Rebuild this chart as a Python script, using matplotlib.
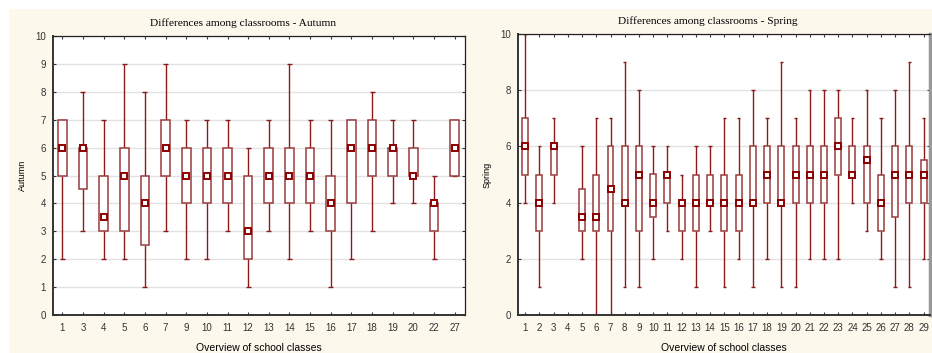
import numpy as np
import matplotlib
matplotlib.use("Agg")
import matplotlib.pyplot as plt
from matplotlib.patches import Rectangle

# Autumn: classes and box statistics (whisker low, Q1, median, Q3, whisker high)
aut_classes = ["1", "3", "4", "5", "6", "7", "9", "10", "11", "12", "13", "14", "15", "16", "17", "18", "19", "20", "22", "27"]
aut_low = [2, 3, 2, 2, 1, 3, 2, 2, 3, 1, 3, 2, 3, 1, 2, 3, 4, 4, 2, 5]
aut_q1 = [5, 4.5, 3, 3, 2.5, 5, 4, 4, 4, 2, 4, 4, 4, 3, 4, 5, 5, 5, 3, 5]
aut_med = [6, 6, 3.5, 5, 4, 6, 5, 5, 5, 3, 5, 5, 5, 4, 6, 6, 6, 5, 4, 6]
aut_q3 = [7, 6, 5, 6, 5, 7, 6, 6, 6, 5, 6, 6, 6, 5, 7, 7, 6, 6, 4, 7]
aut_high = [7, 8, 7, 9, 8, 9, 7, 7, 7, 6, 7, 9, 7, 7, 7, 8, 7, 7, 5, 7]

# Spring: classes 1..29, class 4 has no data
spr_classes = [str(i) for i in range(1, 30)]
spr_low = [4, 1, 4, None, 2, 0, 0, 1, 1, 2, 3, 2, 1, 3, 1, 2, 1, 2, 1, 1, 2, 2, 2, 4, 3, 2, 1, 1, 2]
spr_q1 = [5, 3, 5, None, 3, 3, 3, 4, 3, 3.5, 4, 3, 3, 4, 3, 3, 4, 4, 4, 4, 4, 4, 5, 5, 4, 3, 3.5, 4, 4]
spr_med = [6, 4, 6, None, 3.5, 3.5, 4.5, 4, 5, 4, 5, 4, 4, 4, 4, 4, 4, 5, 4, 5, 5, 5, 6, 5, 5.5, 4, 5, 5, 5]
spr_q3 = [7, 5, 6, None, 4.5, 5, 6, 6, 6, 5, 5, 4, 5, 5, 5, 5, 6, 6, 6, 6, 6, 6, 7, 6, 6, 5, 6, 6, 5.5]
spr_high = [10, 6, 7, None, 6, 7, 7, 9, 8, 6, 6, 5, 6, 6, 7, 7, 8, 7, 9, 7, 8, 8, 8, 7, 8, 7, 8, 9, 7]

cream = "#fdf8ec"
red = "#8b1a1a"
box_col = "#9a3a3a"

plt.rcParams["font.family"] = ["Liberation Sans", "DejaVu Sans"]

fig = plt.figure(figsize=(9.32, 3.53), dpi=100)
fig.patch.set_facecolor(cream)
# white strip at top and left like the cropped page
fig.patches.append(Rectangle((0, 1 - 8 / 353), 1, 8 / 353, transform=fig.transFigure, color="white", zorder=-1))
fig.patches.append(Rectangle((0, 0), 8 / 932, 1, transform=fig.transFigure, color="white", zorder=-1))


def draw(ax, classes, low, q1, med, q3, high, yticks, title, ylabel):
    ax.set_facecolor("white")
    w = 0.42
    cw = 0.12
    for i in range(len(classes)):
        if med[i] is None:
            continue
        x = i + 1
        ax.vlines(x, low[i], q1[i], color=red, lw=1.0, zorder=2)
        ax.vlines(x, q3[i], high[i], color=red, lw=1.0, zorder=2)
        ax.hlines([low[i], high[i]], x - cw, x + cw, color=red, lw=1.0, zorder=2)
        ax.add_patch(Rectangle((x - w / 2, q1[i]), w, q3[i] - q1[i], facecolor="white",
                               edgecolor=box_col, lw=1.1, zorder=3))
        ax.plot(x, med[i], marker="s", ms=3.8, mfc="white", mec="#8b0000", mew=1.4, zorder=4)
    ax.set_xlim(0.55, len(classes) + 0.5)
    ax.set_ylim(0, 10)
    ax.set_xticks(np.arange(1, len(classes) + 1))
    ax.set_xticklabels(classes)
    ax.set_yticks(yticks)
    ax.yaxis.grid(True, color="#e2e2e2", lw=1.0, zorder=0)
    ax.set_axisbelow(True)
    ax.tick_params(axis="both", labelsize=7, colors="#333333", length=2.5, width=0.8,
                   direction="in", top=True, right=True, pad=5)
    ax.tick_params(axis="x", pad=6)
    for s in ["top", "right"]:
        ax.spines[s].set_linewidth(0.9)
        ax.spines[s].set_color("#222222")
    for s in ["left", "bottom"]:
        ax.spines[s].set_linewidth(1.4)
        ax.spines[s].set_color("#333333")
    ax.set_title(title, fontsize=8.2, family=["Liberation Serif", "DejaVu Serif"], pad=7, x=0.46)
    ax.set_xlabel("Overview of school classes", fontsize=7.5, labelpad=7)
    ax.set_ylabel(ylabel, fontsize=6.5, labelpad=6)


ax1 = fig.add_axes([53 / 932, 38 / 353, 412 / 932, 279 / 353])
draw(ax1, aut_classes, aut_low, aut_q1, aut_med, aut_q3, aut_high, np.arange(0, 11, 1),
     "Differences among classrooms - Autumn", "Autumn")

ax2 = fig.add_axes([518 / 932, 38 / 353, 412 / 932, 281 / 353])
draw(ax2, spr_classes, spr_low, spr_q1, spr_med, spr_q3, spr_high, np.arange(0, 11, 2),
     "Differences among classrooms - Spring", "Spring")
ax2.set_xlim(0.5, 29.45)
ax2.spines["right"].set_linewidth(2.5)
ax2.spines["right"].set_color("#999999")

fig.savefig("out.png", dpi=100, facecolor=fig.get_facecolor())
